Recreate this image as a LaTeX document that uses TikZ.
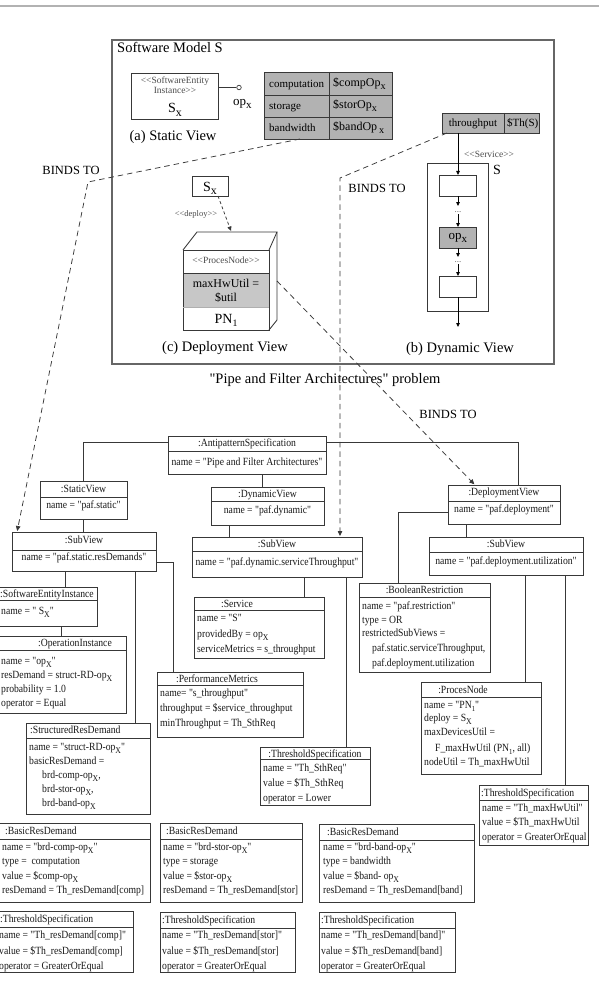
\documentclass[tikz,border=0pt]{standalone}
\usepackage{fontspec}
\setmainfont{Liberation Serif}
\newfontfamily\tms{Liberation Serif}
\newfontfamily\uml{Liberation Serif}[FakeStretch=0.88]
\usetikzlibrary{arrows.meta}
\definecolor{ln}{gray}{0.22}
\definecolor{gfill}{gray}{0.70}
\definecolor{gfillb}{gray}{0.78}
\definecolor{stereo}{gray}{0.30}
\newcommand\xs{\raisebox{-0.5ex}{\scalebox{0.8}{X}}}
\newcommand\sx{\raisebox{-0.5ex}{\scalebox{0.85}{x}}}
\newcommand\sone{\raisebox{-0.5ex}{\scalebox{0.7}{1}}}
\newcounter{tn}
\tikzset{
  objbox/.style={draw=ln, line width=0.85pt, anchor=north west, inner sep=0pt, outer sep=0pt},
  conn/.style={draw=ln, line width=0.85pt},
  bind/.style={draw=ln, line width=0.75pt, dash pattern=on 5.5pt off 4pt, -{Triangle[length=5pt,width=4.5pt]}, shorten >=1pt},
  flow/.style={draw=black, line width=0.8pt, -{Triangle[length=4pt,width=3.5pt]}},
  umltxt/.style={font=\uml\fontsize{11}{13}\selectfont, inner sep=0pt, text=black!90},
  rowtxt/.style={umltxt, anchor=base west},
  hdtxt/.style={umltxt, anchor=base},
  bigtxt/.style={font=\tms\fontsize{14.5}{17}\selectfont, inner sep=0pt, anchor=base},
  midtxt/.style={font=\tms\fontsize{11}{13}\selectfont, inner sep=0pt, anchor=base west},
  bindlbl/.style={font=\tms\fontsize{12.5}{15}\selectfont, inner sep=0pt, anchor=base},
  sttxt/.style={font=\tms\fontsize{9.5}{10}\selectfont, inner sep=0pt, anchor=base, text=stereo},
  dots/.style={font=\tms\fontsize{9}{9}\selectfont, text=black!60, inner sep=0pt, anchor=base},
}
\newcommand\rowt[3]{\stepcounter{tn}\node[rowtxt] (t\arabic{tn}) at ({#1},{#2+3.7}) {#3};}
\newcommand\hdt[3]{\stepcounter{tn}\node[hdtxt] (t\arabic{tn}) at ({#1},{#2+3.7}) {#3};}
\newcommand\hdl[3]{\stepcounter{tn}\node[rowtxt] (t\arabic{tn}) at ({#1},{#2+3.7}) {#3};}
\newcommand\objb[6]{%
  \node[objbox, minimum width={#4-#2}, minimum height={#5-#3}] (#1) at (#2,#3) {};
  \draw[conn] (#1.west |- 0,#6) -- (#1.east |- 0,#6);}
\begin{document}
\begin{tikzpicture}[x=1pt,y=-1pt]
\useasboundingbox (0,0) rectangle (599,987);
\fill[white] (0,0) rectangle (599,987);
\draw[line width=1.4pt, gray!60] (0,6) -- (599,6);

% ---------- Software model ----------
\node[objbox, draw=black!60, line width=1.1pt, minimum width=442, minimum height=324] (sm) at (112,40) {};
\node[bigtxt, anchor=base west] (smt) at (117,53) {Software Model S};

% static view
\node[objbox, minimum width=87, minimum height=46] (se) at (131,73) {};
\node[sttxt] (se1) at (175,84) {<<SoftwareEntity};
\node[sttxt] (se2) at (175,94) {Instance>>};
\node[font=\tms\fontsize{14}{16}\selectfont, inner sep=0pt, anchor=base] (se3) at (175,113) {S\sx};
\node[draw=ln, circle, inner sep=0pt, minimum size=4.5pt, line width=0.7pt, fill=white] (port) at (239,87.5) {};
\draw[conn] (se.east |- port) -- (port.west);
\node[font=\tms\fontsize{13}{15}\selectfont, inner sep=0pt, anchor=base west] (opl) at (233,106) {op\sx};
\node[bigtxt] (svl) at (173,141) {(a) Static View};

\node[objbox, fill=gfill, minimum width=128, minimum height=67] (tab) at (264,72) {};
\draw[conn] (tab.north -| 329,0) -- (tab.south -| 329,0);
\draw[conn] (tab.west |- 0,95) -- (tab.east |- 0,95);
\draw[conn] (tab.west |- 0,117) -- (tab.east |- 0,117);
\node[midtxt] (c1) at (269,88) {computation};
\node[midtxt] (c2) at (269,109.5) {storage};
\node[midtxt] (c3) at (269,131.5) {bandwidth};
\node[midtxt, font=\tms\fontsize{12}{14}\selectfont] (c4) at (333,87) {\$compOp\sx};
\node[midtxt, font=\tms\fontsize{12}{14}\selectfont] (c5) at (333,109) {\$storOp\sx};
\node[midtxt, font=\tms\fontsize{12}{14}\selectfont] (c6) at (333,131) {\$bandOp\,\sx};

% dynamic view
\node[objbox, fill=gfill, minimum width=97, minimum height=20] (thp) at (442,113) {};
\draw[conn] (thp.north -| 504,0) -- (thp.south -| 504,0);
\node[midtxt, anchor=base] (thp1) at (473,127) {throughput};
\node[midtxt] (thp2) at (507,127) {\$Th(S)};
\node[sttxt] (svc) at (489,158) {<<Service>>};
\node[font=\tms\fontsize{14}{16}\selectfont, inner sep=0pt, anchor=base] (sS) at (497,175) {S};
\node[objbox, minimum width=61, minimum height=148] (dvb) at (427,163) {};
\node[objbox, minimum width=37, minimum height=21] (b1) at (439.5,175) {};
\node[objbox, fill=gfill, minimum width=37, minimum height=21] (bop) at (439.5,227) {};
\node[font=\tms\fontsize{13}{15}\selectfont, inner sep=0pt] (bopt) at (bop.center) {op\sx};
\node[objbox, minimum width=37, minimum height=21] (b3) at (439.5,276) {};
\draw[flow] (thp.south -| b1.north) -- (b1.north);
\draw[flow] (b1.south) -- ++(0,10);
\node[dots] (dd1) at (458,212) {...};
\draw[flow] ([yshift=-2pt]dd1.base) -- (bop.north);
\draw[flow] (bop.south) -- ++(0,9);
\node[dots] (dd2) at (458,262) {...};
\draw[flow] ([yshift=-2pt]dd2.base) -- (b3.north);
\draw[flow] (b3.south) -- ++(0,30);
\node[bigtxt] (dvl) at (460,352) {(b) Dynamic View};

% deployment view
\node[objbox, minimum width=36, minimum height=20] (sx) at (192,176) {};
\node[font=\tms\fontsize{14}{16}\selectfont, inner sep=0pt, anchor=base] (sxt) at (210,191) {S\sx};
\node[sttxt, font=\tms\fontsize{8.5}{10}\selectfont] (dep) at (196,216) {<<deploy>>};
\fill[gfillb] (183,273) rectangle (269,307);
\node[objbox, minimum width=86, minimum height=80] (pn) at (183,250) {};
\draw[conn] (pn.north west) -- ++(14,-18) coordinate (tb) -- ++(80,0) coordinate (tr) -- (pn.north east);
\draw[conn] (tr) -- ++(0,88) -- (pn.south east);
\draw[conn] (pn.west |- 0,273) -- (pn.east |- 0,273);
\draw[conn, draw=ln!40] (pn.west |- 0,307) -- (pn.east |- 0,307);
\coordinate (depin) at (231,231);
\draw[draw=ln, line width=0.75pt, dash pattern=on 3pt off 2.5pt, -{Triangle[length=4.5pt,width=4pt]}] ([xshift=-10pt]sx.south east) -- (depin);
\node[sttxt] (pn1) at (226,263) {<<ProcesNode>>};
\node[font=\tms\fontsize{12}{14}\selectfont, inner sep=0pt, anchor=base] (pn2) at (226,287) {maxHwUtil =};
\node[font=\tms\fontsize{12}{14}\selectfont, inner sep=0pt, anchor=base] (pn3) at (226,301) {\$util};
\node[font=\tms\fontsize{14}{16}\selectfont, inner sep=0pt, anchor=base] (pn4) at (226,323) {PN\sone};
\node[bigtxt] (dpl) at (225,351) {(c) Deployment View};

\node[bigtxt] (title) at (325,383) {"Pipe and Filter Architectures" problem};

% ---------- object diagram ----------
\objb{anti}{168}{436}{326}{474}{451}
\hdt{247}{443}{:AntipatternSpecification}
\hdt{247}{462}{name = "Pipe and Filter Architectures"}
\objb{stat}{40}{481}{127}{519}{497}
\hdt{83.5}{489}{:StaticView}
\hdt{83.5}{505}{name = "paf.static"}
\objb{dyn}{211}{487}{324}{525}{501}
\hdt{267.5}{494}{:DynamicView}
\hdt{267.5}{510}{name = "paf.dynamic"}
\objb{depv}{448}{485}{560}{524}{501}
\hdt{504}{492}{:DeploymentView}
\hdt{504}{509}{name = "paf.deployment"}
\objb{sv1}{12}{532}{156}{571}{550}
\hdt{84}{540}{:SubView}
\hdt{84}{557}{name = "paf.static.resDemands"}
\objb{sv2}{192}{537}{362}{577}{551}
\hdt{277}{543.5}{:SubView}
\hdt{277}{562}{name = "paf.dynamic.serviceThroughput"}
\objb{sv3}{429}{537}{583}{575}{552}
\hdt{506}{543.5}{:SubView}
\hdt{506}{561}{name = "paf.deployment.utilization"}
\objb{sei}{-2}{587}{97}{626}{600}
\hdt{47}{594}{:SoftwareEntityInstance}
\rowt{1}{611}{name = " S\xs"}
\objb{opi}{-2}{636}{126}{713}{650}
\hdt{75}{643}{:OperationInstance}
\rowt{1}{661}{name = "op\xs"}
\rowt{1}{675}{resDemand = struct-RD-op\xs}
\rowt{1}{689}{probability = 1.0}
\rowt{1}{703}{operator = Equal}
\objb{srd}{26}{723}{150}{814}{738}
\hdl{30}{730}{:StructuredResDemand}
\rowt{29}{747}{name = "struct-RD-op\xs"}
\rowt{29}{761}{basicResDemand =}
\rowt{42}{775}{brd-comp-op\xs,}
\rowt{42}{789}{brd-stor-op\xs,}
\rowt{42}{803}{brd-band-op\xs}
\objb{svc}{194}{597}{324}{658}{610}
\hdt{237}{603.5}{:Service}
\rowt{197}{618}{name = "S"}
\rowt{197}{634}{providedBy = op\xs}
\rowt{197}{649}{serviceMetrics = s\_throughput}
\objb{perf}{157}{672}{303}{737}{685}
\hdt{217}{678.5}{:PerformanceMetrics}
\rowt{160}{693}{name= "s\_throughput"}
\rowt{160}{708}{throughput = \$service\_throughput}
\rowt{160}{723}{minThroughput = Th\_SthReq}
\objb{boolr}{359}{583}{490}{672}{597}
\hdt{424.5}{590}{:BooleanRestriction}
\rowt{362}{606}{name = "paf.restriction"}
\rowt{362}{620}{type = OR}
\rowt{362}{633}{restrictedSubViews =}
\rowt{372}{648}{paf.static.serviceThroughput,}
\rowt{372}{663}{paf.deployment.utilization}
\objb{thA}{260}{747}{370}{805}{759}
\hdt{315}{753.5}{:ThresholdSpecification}
\rowt{263}{768}{name = "Th\_SthReq"}
\rowt{263}{783}{value = \$Th\_SthReq}
\rowt{263}{798}{operator = Lower}
\objb{pnode}{421}{682}{541}{774}{697}
\hdt{463}{689.5}{:ProcesNode}
\rowt{424}{705}{name = "PN\sone"}
\rowt{424}{718}{deploy = S\xs}
\rowt{424}{732}{maxDevicesUtil =}
\rowt{435}{748}{F\_maxHwUtil (PN\sone, all)}
\rowt{424}{762}{nodeUtil = Th\_maxHwUtil}
\objb{thB}{479}{785}{588}{845}{800}
\hdl{481}{793}{:ThresholdSpecification}
\rowt{482}{808}{name = "Th\_maxHwUtil"}
\rowt{482}{822}{value = \$Th\_maxHwUtil}
\rowt{482}{837}{operator = GreaterOrEqual}
\objb{brdA}{-2}{823}{150}{902}{839}
\hdl{5}{831}{:BasicResDemand}
\rowt{2}{847}{name = "brd-comp-op\xs"}
\rowt{2}{861}{type = \ computation}
\rowt{2}{876}{value = \$comp-op\xs}
\rowt{2}{890}{resDemand = Th\_resDemand[comp]}
\objb{brdB}{160}{823}{302}{902}{839}
\hdl{166}{831}{:BasicResDemand}
\rowt{163}{847}{name = "brd-stor-op\xs"}
\rowt{163}{861}{type = storage}
\rowt{163}{876}{value = \$stor-op\xs}
\rowt{163}{890}{resDemand = Th\_resDemand[stor]}
\objb{brdC}{319}{824}{474}{902}{840}
\hdl{327}{832}{:BasicResDemand}
\rowt{323}{847}{name = "brd-band-op\xs"}
\rowt{323}{861}{type = bandwidth}
\rowt{323}{876}{value = \$band- op\xs}
\rowt{323}{890}{resDemand = Th\_resDemand[band]}
\objb{tsA}{-2}{911}{133}{972}{927}
\hdl{0}{919}{:ThresholdSpecification}
\rowt{-1}{935}{name = "Th\_resDemand[comp]"}
\rowt{-1}{951}{value = \$Th\_resDemand[comp]}
\rowt{-1}{966}{operator = GreaterOrEqual}
\objb{tsB}{160}{912}{295}{972}{928}
\hdl{162}{920}{:ThresholdSpecification}
\rowt{162}{935}{name = "Th\_resDemand[stor]"}
\rowt{162}{951}{value = \$Th\_resDemand[stor]}
\rowt{162}{966}{operator = GreaterOrEqual}
\objb{tsC}{319}{912}{455}{972}{928}
\hdl{321}{920}{:ThresholdSpecification}
\rowt{321}{935}{name = "Th\_resDemand[band]"}
\rowt{321}{951}{value = \$Th\_resDemand[band]}
\rowt{321}{966}{operator = GreaterOrEqual}

% connectors
\draw[conn] ([yshift=-6pt]anti.north west) -| (stat.north);
\draw[conn] ([yshift=-6pt]anti.north east) -| ([xshift=14pt]depv.north);
\draw[conn] ([xshift=15pt]anti.south) -- ([xshift=15pt]anti.south |- dyn.north);
\draw[conn] (stat.south) -- (stat.south |- sv1.north);
\draw[conn] ([xshift=17.5pt]sei.north) -- ([xshift=17.5pt]sei.north |- sv1.south);
\draw[conn] ([xshift=14pt]sei.south) -- ([xshift=14pt]sei.south |- opi.north);
\draw[conn] ([xshift=-15pt]srd.north east) -- ([xshift=-15pt]srd.north east |- sv1.south);
\draw[conn] ([yshift=-30pt]sv1.north east) -| ([xshift=-57pt]perf.north);
\draw[conn] ([xshift=-38.5pt]dyn.south) -- ([xshift=-38.5pt]dyn.south |- sv2.north);
\draw[conn] ([xshift=45pt]svc.north) -- ([xshift=45pt]svc.north |- sv2.south);
\draw[conn] ([xshift=31pt]thA.north) -- ([xshift=31pt]thA.north |- sv2.south);
\draw[conn] ([yshift=-27pt]depv.north west) -| ([xshift=-26.5pt]boolr.north);
\draw[conn] ([xshift=-38pt]depv.south) -- ([xshift=-38pt]depv.south |- sv3.north);
\draw[conn] ([xshift=44pt]pnode.north) -- ([xshift=44pt]pnode.north |- sv3.south);
\draw[conn] ([xshift=31.5pt]thB.north) -- ([xshift=31.5pt]thB.north |- sv3.south);

% BINDS TO dashed arrows
\coordinate (k1) at (88,182);
\coordinate (k2) at (340,178);
\coordinate (k3) at (277,281);
\draw[bind] ([xshift=36pt]tab.south west) -- (k1) -- ([xshift=5pt]sv1.north west);
\draw[bind] ([xshift=5pt]thp.south west) -- (k2) -- (k2 |- sv2.north);
\draw[bind] (k3) -- ([xshift=27pt]depv.north west);
\node[bindlbl] (bl1) at (71,175) {BINDS TO};
\node[bindlbl] (bl2) at (377,193) {BINDS TO};
\node[bindlbl] (bl3) at (448,418) {BINDS TO};
\end{tikzpicture}
\end{document}
